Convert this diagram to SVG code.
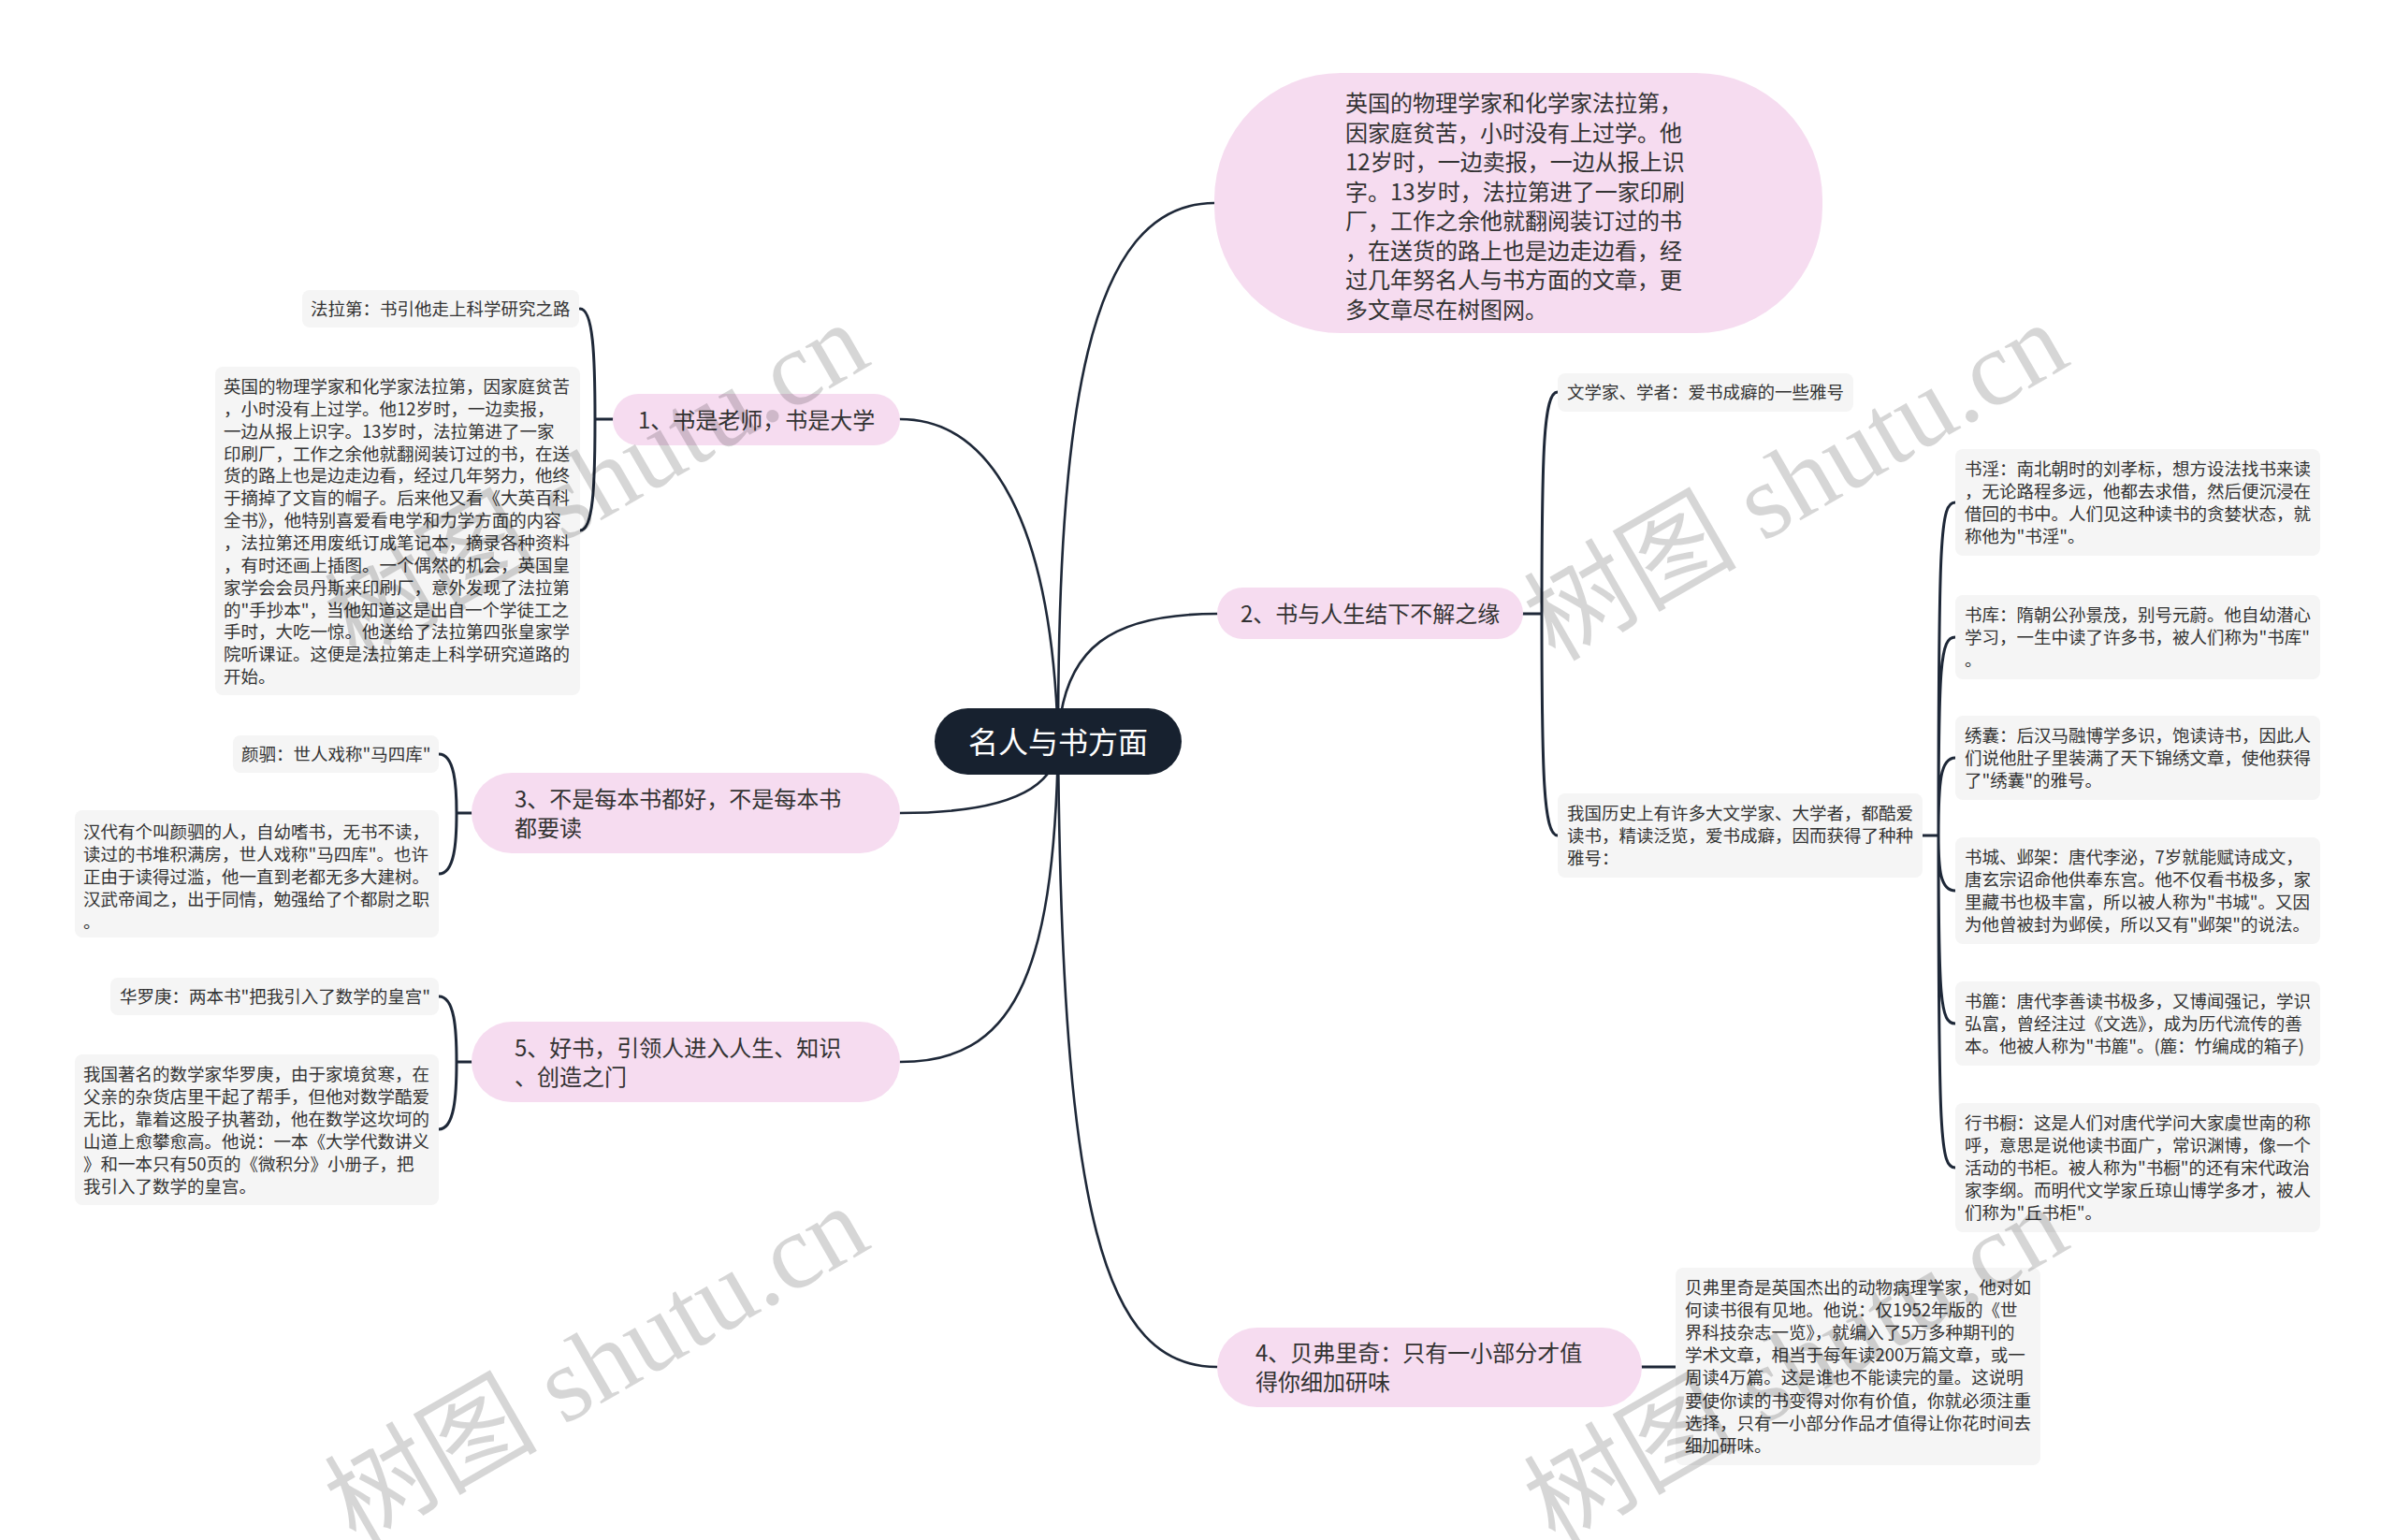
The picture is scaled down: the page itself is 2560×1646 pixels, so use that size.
<svg xmlns="http://www.w3.org/2000/svg" width="2560" height="1646" viewBox="0 0 2560 1646">
<style>
.conn{fill:none;stroke:#1e2838;stroke-width:2.6;stroke-linecap:round}
.br{fill:none;stroke:#1e2838;stroke-width:3;stroke-linecap:round}
.pink{fill:#f6dcf0}
.leaf{fill:#f5f5f5}
.root{fill:#17212f}
.t18{font-family:"Noto Sans CJK SC","Noto Sans",sans-serif;font-size:18.5px;fill:#333}
.t24{font-family:"Noto Sans CJK SC","Noto Sans",sans-serif;font-size:24px;fill:#333}
.t32{font-family:"Noto Sans CJK SC","Noto Sans",sans-serif;font-size:32px;fill:#fff}
.wm{font-family:"Liberation Serif","Noto Sans CJK SC",serif;font-size:114px;fill:#000;fill-opacity:0.16}
</style>
<rect width="2560" height="1646" fill="#ffffff"/>
<g id="connectors">
<path class="conn" d="M1131 793 C1131 450 1160 217 1298 217"/>
<path class="conn" d="M1131 793 C1125 560 1060 448 962 448"/>
<path class="conn" d="M1131 793 C1135 690 1190 656 1301 656"/>
<path class="conn" d="M1131 793 C1131 850 1060 869 962 869"/>
<path class="conn" d="M1131 793 C1127 1050 1080 1135 962 1135"/>
<path class="conn" d="M1131 793 C1135 1300 1180 1461 1301 1461"/>
<path class="br" d="M655 448 H636 M636 448 C636 380 634 330 620 330 M636 448 C636 520 634 567 620 567"/>
<path class="br" d="M504 869 H488 M488 869 C488 840 486 806 469 806 M488 869 C488 900 486 934 469 934"/>
<path class="br" d="M504 1135 H488 M488 1135 C488 1100 486 1065 469 1065 M488 1135 C488 1170 486 1207 469 1207"/>
<path class="br" d="M1628 656 H1648 M1648 656 C1648 480 1650 419 1665 419 M1648 656 C1648 830 1650 893 1665 893"/>
<path class="br" d="M2055 893 H2072 M2072 893 C2072 570 2074 537 2090 537 M2072 893 C2072 710 2074 681 2090 681 M2072 893 C2072 835 2074 810 2090 810 M2072 893 C2072 930 2074 952 2090 952 M2072 893 C2072 1070 2074 1094 2090 1094 M2072 893 C2072 1220 2074 1248 2090 1248"/>
<path class="br" d="M1755 1461 H1791"/>
</g>
<g id="root">
<rect class="root" x="999" y="757" width="264" height="71" rx="35.5"/>
<text class="t32" x="1131" y="805" text-anchor="middle">名人与书方面</text>
</g>
<g id="bubble">
<rect class="pink" x="1298" y="78" width="650" height="278" rx="135"/>
<text class="t24"><tspan x="1438" y="119">英国的物理学家和化学家法拉第，</tspan><tspan x="1438" y="150.5">因家庭贫苦，小时没有上过学。他</tspan><tspan x="1438" y="182">12岁时，一边卖报，一边从报上识</tspan><tspan x="1438" y="213.5">字。13岁时，法拉第进了一家印刷</tspan><tspan x="1438" y="245">厂，工作之余他就翻阅装订过的书</tspan><tspan x="1438" y="276.5">，在送货的路上也是边走边看，经</tspan><tspan x="1438" y="308">过几年努名人与书方面的文章，更</tspan><tspan x="1438" y="339.5">多文章尽在树图网。</tspan></text>
</g>
<g id="n1">
<rect class="pink" x="655" y="421" width="307" height="55" rx="27.5"/>
<text class="t24" x="682" y="457.5">1、书是老师，书是大学</text>
</g>
<g id="n1a">
<rect class="leaf" x="323" y="310" width="296" height="40" rx="8"/>
<text class="t18" x="332" y="337">法拉第：书引他走上科学研究之路</text>
</g>
<g id="n1b">
<rect class="leaf" x="230" y="392" width="390" height="351" rx="8"/>
<text class="t18"><tspan x="239" y="420">英国的物理学家和化学家法拉第，因家庭贫苦</tspan><tspan x="239" y="443.85">，小时没有上过学。他12岁时，一边卖报，</tspan><tspan x="239" y="467.7">一边从报上识字。13岁时，法拉第进了一家</tspan><tspan x="239" y="491.55">印刷厂，工作之余他就翻阅装订过的书，在送</tspan><tspan x="239" y="515.4">货的路上也是边走边看，经过几年努力，他终</tspan><tspan x="239" y="539.25">于摘掉了文盲的帽子。后来他又看《大英百科</tspan><tspan x="239" y="563.1">全书》，他特别喜爱看电学和力学方面的内容</tspan><tspan x="239" y="586.95">，法拉第还用废纸订成笔记本，摘录各种资料</tspan><tspan x="239" y="610.8">，有时还画上插图。一个偶然的机会，英国皇</tspan><tspan x="239" y="634.65">家学会会员丹斯来印刷厂，意外发现了法拉第</tspan><tspan x="239" y="658.5">的"手抄本"，当他知道这是出自一个学徒工之</tspan><tspan x="239" y="682.35">手时，大吃一惊。他送给了法拉第四张皇家学</tspan><tspan x="239" y="706.2">院听课证。这便是法拉第走上科学研究道路的</tspan><tspan x="239" y="730">开始。</tspan></text>
</g>
<g id="n2">
<rect class="pink" x="1301" y="628" width="327" height="55" rx="27.5"/>
<text class="t24" x="1326" y="664.5">2、书与人生结下不解之缘</text>
</g>
<g id="n2a">
<rect class="leaf" x="1665" y="399" width="316" height="41" rx="8"/>
<text class="t18" x="1675" y="426">文学家、学者：爱书成癖的一些雅号</text>
</g>
<g id="n2b">
<rect class="leaf" x="1665" y="848" width="390" height="90" rx="8"/>
<text class="t18"><tspan x="1675" y="876">我国历史上有许多大文学家、大学者，都酷爱</tspan><tspan x="1675" y="900">读书，精读泛览，爱书成癖，因而获得了种种</tspan><tspan x="1675" y="924">雅号：</tspan></text>
</g>
<g id="g1">
<rect class="leaf" x="2090" y="480" width="390" height="114" rx="8"/>
<text class="t18"><tspan x="2100" y="508">书淫：南北朝时的刘孝标，想方设法找书来读</tspan><tspan x="2100" y="532">，无论路程多远，他都去求借，然后便沉浸在</tspan><tspan x="2100" y="556">借回的书中。人们见这种读书的贪婪状态，就</tspan><tspan x="2100" y="580">称他为"书淫"。</tspan></text>
</g>
<g id="g2">
<rect class="leaf" x="2090" y="636" width="390" height="90" rx="8"/>
<text class="t18"><tspan x="2100" y="664">书库：隋朝公孙景茂，别号元蔚。他自幼潜心</tspan><tspan x="2100" y="688">学习，一生中读了许多书，被人们称为"书库"</tspan><tspan x="2100" y="712">。</tspan></text>
</g>
<g id="g3">
<rect class="leaf" x="2090" y="765" width="390" height="90" rx="8"/>
<text class="t18"><tspan x="2100" y="793">绣囊：后汉马融博学多识，饱读诗书，因此人</tspan><tspan x="2100" y="817">们说他肚子里装满了天下锦绣文章，使他获得</tspan><tspan x="2100" y="841">了"绣囊"的雅号。</tspan></text>
</g>
<g id="g4">
<rect class="leaf" x="2090" y="895" width="390" height="114" rx="8"/>
<text class="t18"><tspan x="2100" y="923">书城、邺架：唐代李泌，7岁就能赋诗成文，</tspan><tspan x="2100" y="947">唐玄宗诏命他供奉东宫。他不仅看书极多，家</tspan><tspan x="2100" y="971">里藏书也极丰富，所以被人称为"书城"。又因</tspan><tspan x="2100" y="995">为他曾被封为邺侯，所以又有"邺架"的说法。</tspan></text>
</g>
<g id="g5">
<rect class="leaf" x="2090" y="1049" width="390" height="90" rx="8"/>
<text class="t18"><tspan x="2100" y="1077">书簏：唐代李善读书极多，又博闻强记，学识</tspan><tspan x="2100" y="1101">弘富，曾经注过《文选》，成为历代流传的善</tspan><tspan x="2100" y="1125">本。他被人称为"书簏"。(簏：竹编成的箱子)</tspan></text>
</g>
<g id="g6">
<rect class="leaf" x="2090" y="1179" width="390" height="138" rx="8"/>
<text class="t18"><tspan x="2100" y="1207">行书橱：这是人们对唐代学问大家虞世南的称</tspan><tspan x="2100" y="1231">呼，意思是说他读书面广，常识渊博，像一个</tspan><tspan x="2100" y="1255">活动的书柜。被人称为"书橱"的还有宋代政治</tspan><tspan x="2100" y="1279">家李纲。而明代文学家丘琼山博学多才，被人</tspan><tspan x="2100" y="1303">们称为"丘书柜"。</tspan></text>
</g>
<g id="n3">
<rect class="pink" x="504" y="826" width="458" height="86" rx="43"/>
<text class="t24"><tspan x="550" y="863">3、不是每本书都好，不是每本书</tspan><tspan x="550" y="894">都要读</tspan></text>
</g>
<g id="n3a">
<rect class="leaf" x="249" y="786" width="220" height="40" rx="8"/>
<text class="t18" x="258" y="813">颜驷：世人戏称"马四库"</text>
</g>
<g id="n3b">
<rect class="leaf" x="80" y="866" width="389" height="136" rx="8"/>
<text class="t18"><tspan x="89" y="896">汉代有个叫颜驷的人，自幼嗜书，无书不读，</tspan><tspan x="89" y="920">读过的书堆积满房，世人戏称"马四库"。也许</tspan><tspan x="89" y="944">正由于读得过滥，他一直到老都无多大建树。</tspan><tspan x="89" y="968">汉武帝闻之，出于同情，勉强给了个都尉之职</tspan><tspan x="89" y="992">。</tspan></text>
</g>
<g id="n5">
<rect class="pink" x="504" y="1092" width="458" height="86" rx="43"/>
<text class="t24"><tspan x="550" y="1129">5、好书，引领人进入人生、知识</tspan><tspan x="550" y="1160">、创造之门</tspan></text>
</g>
<g id="n5a">
<rect class="leaf" x="118" y="1045" width="351" height="40" rx="8"/>
<text class="t18" x="128" y="1072">华罗庚：两本书"把我引入了数学的皇宫"</text>
</g>
<g id="n5b">
<rect class="leaf" x="80" y="1127" width="389" height="161" rx="8"/>
<text class="t18"><tspan x="89" y="1155">我国著名的数学家华罗庚，由于家境贫寒，在</tspan><tspan x="89" y="1179">父亲的杂货店里干起了帮手，但他对数学酷爱</tspan><tspan x="89" y="1203">无比，靠着这股子执著劲，他在数学这坎坷的</tspan><tspan x="89" y="1227">山道上愈攀愈高。他说：一本《大学代数讲义</tspan><tspan x="89" y="1251">》和一本只有50页的《微积分》小册子，把</tspan><tspan x="89" y="1275">我引入了数学的皇宫。</tspan></text>
</g>
<g id="n4">
<rect class="pink" x="1301" y="1419" width="454" height="85" rx="42.5"/>
<text class="t24"><tspan x="1342" y="1455">4、贝弗里奇：只有一小部分才值</tspan><tspan x="1342" y="1486">得你细加研味</tspan></text>
</g>
<g id="n4a">
<rect class="leaf" x="1791" y="1355" width="390" height="211" rx="8"/>
<text class="t18"><tspan x="1801" y="1383">贝弗里奇是英国杰出的动物病理学家，他对如</tspan><tspan x="1801" y="1407">何读书很有见地。他说：仅1952年版的《世</tspan><tspan x="1801" y="1431">界科技杂志一览》，就编入了5万多种期刊的</tspan><tspan x="1801" y="1455">学术文章，相当于每年读200万篇文章，或一</tspan><tspan x="1801" y="1479">周读4万篇。这是谁也不能读完的量。这说明</tspan><tspan x="1801" y="1504">要使你读的书变得对你有价值，你就必须注重</tspan><tspan x="1801" y="1528">选择，只有一小部分作品才值得让你花时间去</tspan><tspan x="1801" y="1552">细加研味。</tspan></text>
</g>
<g id="watermarks">
<text class="wm" transform="translate(380 708) rotate(-30)">树图 shutu.cn</text>
<text class="wm" transform="translate(1662 708) rotate(-30)">树图 shutu.cn</text>
<text class="wm" transform="translate(380 1652) rotate(-30)">树图 shutu.cn</text>
<text class="wm" transform="translate(1662 1652) rotate(-30)">树图 shutu.cn</text>
</g>
</svg>
